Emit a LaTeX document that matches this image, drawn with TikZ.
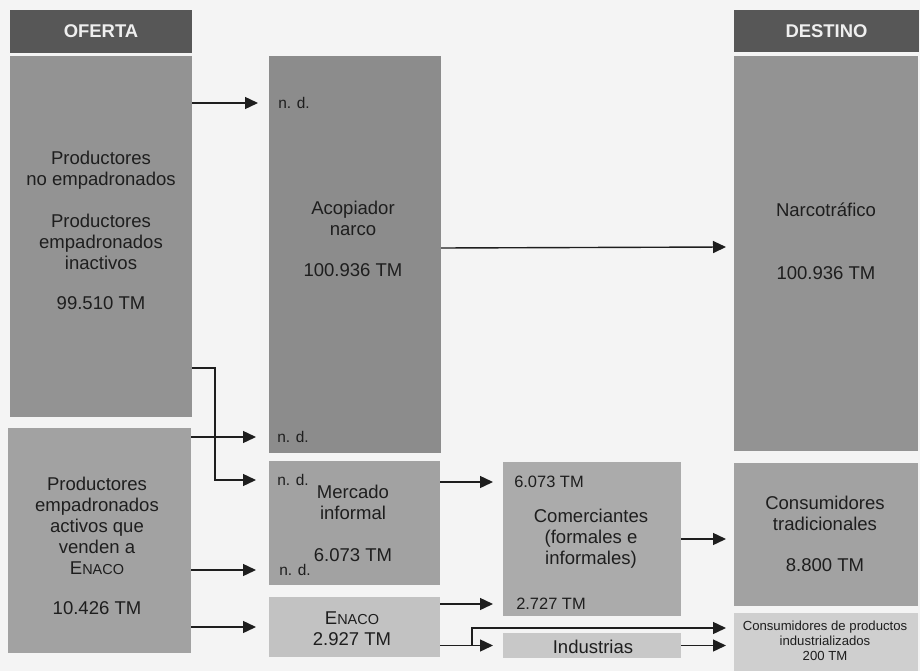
\documentclass[tikz,border=0pt]{standalone}
\usepackage{fontspec}
\setmainfont{Liberation Sans}
\usetikzlibrary{arrows.meta}
\definecolor{paper}{HTML}{F4F4F4}
\definecolor{headgray}{HTML}{575757}
\definecolor{headtext}{HTML}{EFEFEF}
\definecolor{inkgray}{HTML}{1E1E1E}
\definecolor{darkbox}{HTML}{939393}
\definecolor{midbox}{HTML}{A2A2A2}
\definecolor{lightbox}{HTML}{C2C2C2}
\definecolor{palebox}{HTML}{CFCFCF}
\newcommand{\enaco}{E{\fontsize{14.5}{14.5}\selectfont NACO}}
\begin{document}
\begin{tikzpicture}[x=1bp,y=-1bp,
    box/.style={fill=#1,inner sep=0pt,outer sep=0pt},
    head/.style={fill=headgray,text=headtext,inner sep=0pt,outer sep=0pt,
        font=\bfseries\fontsize{18.5}{18.5}\selectfont},
    txt/.style={align=center,text=inkgray,font=\fontsize{18.6}{21}\selectfont},
    note/.style={text=inkgray,font=\fontsize{15.5}{15.5}\selectfont},
    flow/.style={->,line width=1.4bp,draw=inkgray},
    >={Triangle[length=13bp,width=12bp]}
]
\useasboundingbox[fill=paper] (0,0) rectangle (920,671);

% columns
\node[head,minimum width=182bp,minimum height=43bp] (oferta) at (101,31.5) {OFERTA};
\node[head,minimum width=185bp,minimum height=42bp] (destino) at (826.5,31) {DESTINO};

\node[box=darkbox,minimum width=182bp,minimum height=361bp] (prodA) at (101,236.5) {};
\node[box=midbox,minimum width=183bp,minimum height=225bp] (prodB) at (99.5,540.5) {};
\node[box=darkbox!95!black,minimum width=172bp,minimum height=397bp] (acop) at (355,254.5) {};
\node[box=midbox,minimum width=171bp,minimum height=124bp] (merc) at (354.5,523) {};
\node[box=lightbox,minimum width=171bp,minimum height=60bp] (enaco) at (354.5,627) {};
\node[box=midbox!90!white,minimum width=178bp,minimum height=154bp] (comer) at (592,539) {};
\node[box=lightbox!90!white,minimum width=178bp,minimum height=25bp] (indus) at (592,645.5) {};
\node[box=darkbox,minimum width=184bp,minimum height=395bp] (narco) at (826,253.5) {};
\node[box=midbox,minimum width=184bp,minimum height=143bp] (ctrad) at (826,534.5) {};
\node[box=palebox,minimum width=184bp,minimum height=58bp] (cind) at (826,642) {};

% texts
\node[txt] (prodAtxt) at (101,230.5) {Productores\\no empadronados\\[21bp]Productores\\empadronados\\inactivos\\[20bp]99.510 TM};
\node[txt] (prodBtxt) at (97,546) {Productores\\empadronados\\activos que\\venden a\\\enaco\\[20bp]10.426 TM};
\node[txt] (acoptxt) at (353,239) {Acopiador\\narco\\[20bp]100.936 TM};
\node[txt] (merctxt) at (353,523.5) {Mercado\\informal\\[21bp]6.073 TM};
\node[txt] (enacotxt) at (352,628.5) {\enaco\\2.927 TM};
\node[txt] (comertxt) at (591,539) {Comerciantes\\(formales e\\informales)};
\node[txt] (industxt) at (593,647) {Industrias};
\node[txt] (narcotxt) at (826,241.5) {Narcotráfico\\[42bp]100.936 TM};
\node[txt] (ctradtxt) at (825,534) {Consumidores\\tradicionales\\[20bp]8.800 TM};
\node[txt,font=\fontsize{13.2}{15}\selectfont] (cindtxt) at (825,641) {Consumidores de productos\\industrializados\\200 TM};

% flow labels
\node[note] (nd1) at (294,103) {n. d.};
\node[note] (nd2) at (293,437) {n. d.};
\node[note] (nd3) at (293,480) {n. d.};
\node[note] (nd4) at (295,570) {n. d.};
\node[note,font=\fontsize{16.5}{16.5}\selectfont] (infol) at (549,482) {6.073 TM};
\node[note,font=\fontsize{16.5}{16.5}\selectfont] (formal) at (551,604) {2.727 TM};
\coordinate (split) at (472,645.5);

% connectors
\draw[flow] (prodA.east |- nd1) -- ([xshift=-11bp]acop.west |- nd1);
\draw[flow] ([yshift=6.5bp]acop.east) -- ([xshift=-8bp,yshift=6.5bp]narco.west);
\draw[flow] ([yshift=-131.5bp]prodA.east) -- ++(23,0) |- ([xshift=-13bp]merc.west |- nd3);
\draw[flow] (prodB.east |- nd2) -- ([xshift=-13bp]acop.west |- nd2);
\draw[flow] (prodB.east |- nd4) -- ([xshift=-13bp]merc.west |- nd4);
\draw[flow] (prodB.east |- enaco) -- ([xshift=-13bp]enaco.west);
\draw[flow] (merc.east |- infol) -- ([xshift=-10bp]comer.west |- infol);
\draw[flow] (enaco.east |- formal) -- ([xshift=-10bp]comer.west |- formal);
\draw[flow] (enaco.east |- split) -- (split) -- ([xshift=-10bp]indus.west);
\draw[flow] (split) |- ([xshift=-8bp,yshift=14bp]cind.west);
\draw[flow] (comer.east) -- ([xshift=-8bp]ctrad.west |- comer.east);
\draw[flow] (indus.east) -- ([xshift=-8bp]cind.west |- indus.east);
\end{tikzpicture}
\end{document}
